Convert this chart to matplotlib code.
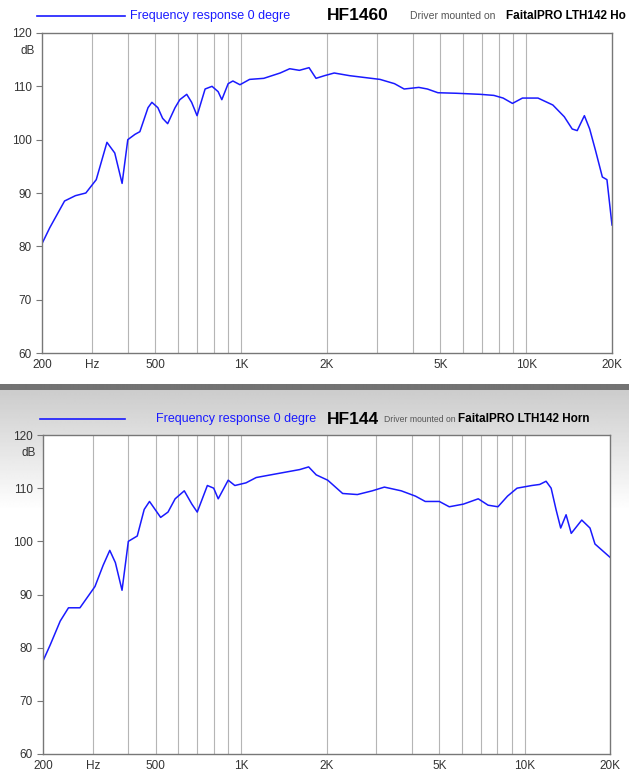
import matplotlib
matplotlib.use("Agg")
import matplotlib.pyplot as plt
import matplotlib.ticker as ticker
import numpy as np

# ── Data ─────────────────────────────────────────────────────────────────────
freq_a = [200, 213, 240, 262, 285, 310, 338, 360, 382, 400, 424, 441, 471, 486,
          510, 530, 552, 586, 609, 644, 670, 700, 747, 790, 830, 855, 900, 935,
          990, 1070, 1200, 1370, 1480, 1600, 1730, 1830, 1960, 2120, 2400, 3070,
          3450, 3730, 4200, 4500, 4900, 5700, 6900, 7700, 8300, 8950, 9700,
          11000, 12400, 13600, 14500, 15100, 16000, 16700, 17500, 18500, 19200, 20000]
db_a = [80.5, 83.5, 88.5, 89.5, 90.0, 92.5, 99.5, 97.5, 91.8, 100.0, 101.0, 101.5,
        106.0, 107.0, 106.0, 104.0, 103.0, 106.0, 107.5, 108.5, 107.0, 104.5, 109.5,
        110.0, 109.0, 107.5, 110.5, 111.0, 110.3, 111.3, 111.5, 112.5, 113.3, 113.0,
        113.5, 111.5, 112.0, 112.5, 112.0, 111.3, 110.5, 109.5, 109.8, 109.5, 108.8,
        108.7, 108.5, 108.3, 107.8, 106.8, 107.8, 107.8, 106.5, 104.3, 102.0, 101.7,
        104.5, 102.0, 98.0, 93.0, 92.5, 84.0]

freq_b = [200, 212, 230, 246, 270, 305, 326, 344, 360, 380, 400, 430, 455, 475,
          520, 552, 585, 630, 670, 700, 760, 800, 830, 900, 950, 1040, 1130, 1270,
          1430, 1610, 1730, 1840, 2020, 2280, 2570, 2900, 3200, 3670, 4120, 4460,
          5000, 5420, 6080, 6860, 7430, 8050, 8700, 9400, 10600, 11300, 11900,
          12400, 12900, 13400, 14000, 14600, 15900, 17000, 17700, 20000]
db_b = [77.5, 80.5, 85.0, 87.5, 87.5, 91.5, 95.5, 98.3, 96.0, 90.8, 100.0, 101.0,
        106.0, 107.5, 104.5, 105.5, 108.0, 109.5, 107.0, 105.5, 110.5, 110.0, 108.0,
        111.5, 110.5, 111.0, 112.0, 112.5, 113.0, 113.5, 114.0, 112.5, 111.5, 109.0,
        108.8, 109.5, 110.2, 109.5, 108.5, 107.5, 107.5, 106.5, 107.0, 108.0, 106.8,
        106.5, 108.5, 110.0, 110.5, 110.7, 111.3, 110.0, 106.0, 102.5, 105.0, 101.5,
        104.0, 102.5, 99.5, 97.0]

xtick_vals = [200, 300, 500, 1000, 2000, 5000, 10000, 20000]
xtick_labels = ["200", "Hz", "500", "1K", "2K", "5K", "10K", "20K"]
ytick_vals = [60, 70, 80, 90, 100, 110, 120]
grid_freqs = [300, 400, 500, 600, 700, 800, 900, 1000, 2000, 3000, 4000, 5000,
              6000, 7000, 8000, 9000, 10000]

W, H = 629, 778
FONT = ["Liberation Sans", "DejaVu Sans"]
BLUE = "#1a1aff"
plt.rcParams["font.family"] = FONT

fig = plt.figure(figsize=(W / 100, H / 100), dpi=100, facecolor="white")

# grey band + gradient background of the lower panel
bg = fig.add_axes([0, 0, 1, 1], zorder=-10)
bg.set_axis_off()
grad = np.ones((H, 2))
y = np.arange(H)
grad[(y >= 384) & (y < 390), :] = 0.45
mask = y >= 390
grad[mask, :] = np.clip(0.80 + (y[mask] - 390) / 120 * 0.2, 0.80, 1.0)[:, None]
bg.imshow(grad, cmap="gray", vmin=0, vmax=1, aspect="auto", extent=[0, 1, 0, 1],
          origin="upper")
bg.set_xlim(0, 1); bg.set_ylim(0, 1)


def panel(rect, f, d):
    ax = fig.add_axes(rect)
    ax.set_facecolor("white")
    ax.plot(f, d, color=BLUE, lw=1.1)
    ax.set_xscale("log")
    ax.set_xlim(200, 20000)
    ax.set_ylim(60, 120)
    for g in grid_freqs:
        ax.axvline(g, color="#b5b5b5", lw=0.8, zorder=0)
    ax.xaxis.set_major_locator(ticker.FixedLocator(xtick_vals))
    ax.xaxis.set_minor_locator(ticker.NullLocator())
    ax.set_xticklabels(xtick_labels)
    ax.set_yticks(ytick_vals)
    ax.tick_params(axis="x", length=0, labelsize=8.5, pad=4, labelcolor="#333333")
    ax.tick_params(axis="y", length=4, labelsize=8.5, labelcolor="#333333",
                   color="#777777")
    ax.text(-0.012, 0.945, "dB", transform=ax.transAxes, ha="right", va="center",
            fontsize=8.5, color="#333333")
    for sp in ax.spines.values():
        sp.set_color("#777777"); sp.set_linewidth(1.0)
    return ax


panel([42 / W, 1 - 353 / H, 570 / W, 320 / H], freq_a, db_a)
panel([43 / W, 1 - 754 / H, 567 / W, 319 / H], freq_b, db_b)


def header(yp, x0, x1, xt, model, xm, xd, ds, xb, brand, bs):
    yf = 1 - yp / H
    fig.add_artist(plt.Line2D([x0 / W, x1 / W], [yf, yf], color=BLUE, lw=1.2))
    fig.text(xt / W, yf, "Frequency response 0 degre", color=BLUE, fontsize=9,
             va="center")
    fig.text(xm / W, yf, model, color="black", fontsize=12.5, fontweight="bold",
             va="center")
    fig.text(xd / W, yf, "Driver mounted on", color="#555555", fontsize=ds,
             va="center")
    fig.text(xb / W, yf, brand, color="black", fontsize=bs, fontweight="bold",
             va="center")


header(16, 37, 125, 130, "HF1460", 327, 410, 7.5, 506, "FaitalPRO LTH142 Ho", 8.5)
header(419, 40, 125, 156, "HF144", 327, 384, 6.2, 458, "FaitalPRO LTH142 Horn", 8.5)

fig.savefig("out.png", dpi=100, facecolor="white")
